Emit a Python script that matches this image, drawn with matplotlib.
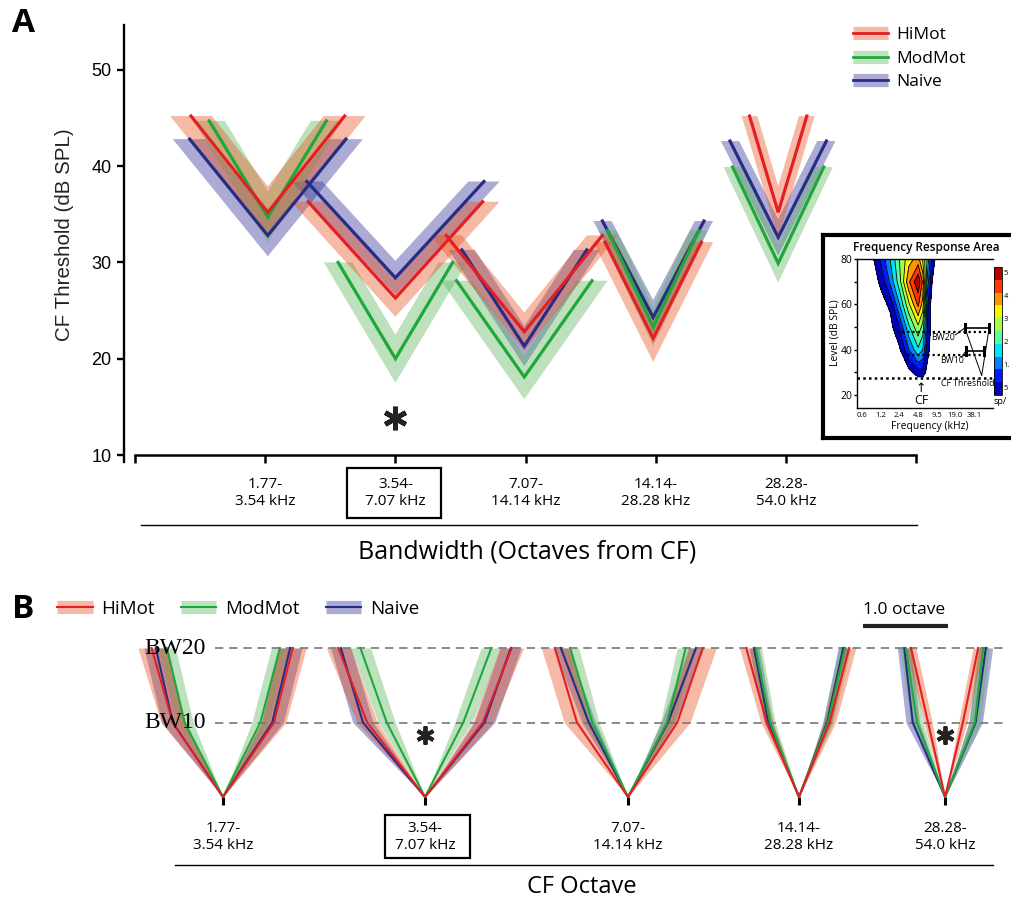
import matplotlib.pyplot as plt
import numpy as np
from matplotlib.lines import Line2D
from matplotlib.patches import Rectangle
from matplotlib.transforms import blended_transform_factory

plt.rcParams['font.family'] = ['Open Sans', 'DejaVu Sans']

W, H = 1011, 902
fig = plt.figure(figsize=(W / 100, H / 100), dpi=100)


def fx(px):
    return px / W


def fy(py):
    return 1 - py / H


# ---------------- data, panel A ----------------
bands = ["1.77-\n3.54 kHz", "3.54-\n7.07 kHz", "7.07-\n14.14 kHz",
         "14.14-\n28.28 kHz", "28.28-\n54.0 kHz"]
centers_a = [1.02, 2.0, 2.99, 3.98, 4.94]
rise = 10  # BW10 arms

hi_thr = [35.2, 26.3, 22.8, 22.1, 35.2]
mod_thr = [34.7, 20.0, 18.1, 23.3, 29.9]
naive_thr = [32.8, 28.4, 21.3, 24.3, 32.6]
hi_bw = [0.59, 0.67, 0.60, 0.37, 0.22]
mod_bw = [0.45, 0.44, 0.52, 0.35, 0.35]
naive_bw = [0.60, 0.68, 0.48, 0.39, 0.37]
hi_bw_sem = [0.16, 0.13, 0.12, 0.09, 0.06]
mod_bw_sem = [0.12, 0.11, 0.12, 0.07, 0.07]
naive_bw_sem = [0.13, 0.12, 0.10, 0.07, 0.07]
sig_a = [(2.0, 13.8)]

# ---------------- data, panel B (octaves from CF) ----------------
centers_b = [0.976, 3.353, 5.741, 7.753, 9.471]
levels_b = [20, 10, 0, 10, 20]
# [left BW20, left BW10, right BW10, right BW20]
hi_edges = [[-0.84, -0.59, 0.60, 0.82], [-1.02, -0.68, 0.68, 1.02],
            [-0.86, -0.60, 0.58, 0.88], [-0.62, -0.38, 0.36, 0.59],
            [-0.40, -0.20, 0.21, 0.39]]
mod_edges = [[-0.66, -0.45, 0.44, 0.67], [-0.76, -0.45, 0.45, 0.78],
             [-0.68, -0.42, 0.46, 0.68], [-0.51, -0.34, 0.34, 0.54],
             [-0.46, -0.33, 0.35, 0.45]]
naive_edges = [[-0.79, -0.59, 0.58, 0.79], [-0.99, -0.73, 0.70, 1.01],
               [-0.79, -0.46, 0.47, 0.80], [-0.53, -0.36, 0.33, 0.52],
               [-0.48, -0.38, 0.36, 0.48]]
# [sem at BW10, sem at BW20]
hi_sem_b = [[0.14, 0.16], [0.12, 0.14], [0.15, 0.16], [0.07, 0.08], [0.05, 0.06]]
mod_sem_b = [[0.10, 0.10], [0.10, 0.12], [0.08, 0.10], [0.06, 0.07], [0.07, 0.07]]
naive_sem_b = [[0.13, 0.14], [0.12, 0.12], [0.08, 0.09], [0.05, 0.06], [0.08, 0.08]]
sig_b = [(3.353, 8.3), (9.471, 8.3)]

# ---------------- data, inset (frequency response area) ----------------
fra_oct = [0, 0.5, 1.0, 1.5, 2.0, 2.5, 3.0, 3.25, 3.5, 3.75, 4.0, 5.0, 7.5]
fra_db = [14, 26, 30, 40, 50, 60, 70, 80]
fra_rate = [
    [0, 0, 0, 0, 0, 0, 0, 0, 0, 0, 0, 0, 0],
    [0, 0, 0, 0, 0, 0, 0, 0, 0, 0, 0, 0, 0],
    [0, 0, 0, 0, 0, 0.1, 0.6, 0.6, 0.1, 0, 0, 0, 0],
    [0, 0, 0, 0, 0.2, 1.3, 2.2, 1.8, 0.5, 0, 0, 0, 0],
    [0, 0, 0, 0.1, 0.8, 2.2, 3.2, 2.6, 0.8, 0, 0, 0, 0],
    [0, 0, 0.1, 0.4, 1.8, 3.2, 4.4, 3.6, 0.9, 0, 0, 0, 0],
    [0, 0, 0.4, 1.4, 2.6, 4.2, 5.2, 4.2, 1.6, 0.3, 0, 0, 0],
    [0, 0.1, 0.9, 1.8, 2.8, 3.6, 4.0, 3.2, 2.2, 0.6, 0.1, 0, 0],
]
fra_levels = [0.3, 0.8, 1.3, 1.8, 2.3, 2.8, 3.3, 3.8, 4.3, 4.8, 5.3]
fra_freqs = ['0.6', '1.2', '2.4', '4.8', '9.5', '19.0', '38.1']

# ---------------- styles ----------------
hi_line, hi_band = '#e31e24', '#e6501e'
mod_line, mod_band = '#1fa83a', '#5cb45c'
naive_line, naive_band = '#262d87', '#2f2f96'
alpha_band = 0.4

series_a = [
    (naive_thr, naive_bw, naive_bw_sem, naive_line, naive_band),
    (mod_thr, mod_bw, mod_bw_sem, mod_line, mod_band),
    (hi_thr, hi_bw, hi_bw_sem, hi_line, hi_band),
]
series_b = [
    (naive_edges, naive_sem_b, naive_line, naive_band),
    (mod_edges, mod_sem_b, mod_line, mod_band),
    (hi_edges, hi_sem_b, hi_line, hi_band),
]

# ================= panel A =================
ppu = 130.2  # pixels per group
axa = fig.add_axes([fx(124), fy(462), fx(1011) - fx(124), fy(25) - fy(462)])
axa.set_xlim(-11 / ppu, 876 / ppu)
axa.set_ylim(10 - 7 / 9.63, 10 + 430 / 9.63)

for thr, bw, sem, lc, bc in series_a:
    for c, t, hw, d in zip(centers_a, thr, bw, sem):
        top = t + rise
        e = d * rise / hw
        axa.fill([c - hw - d, c, c + hw + d, c + hw - d, c, c - hw + d],
                 [top, t - e, top, top, t + e, top],
                 color=bc, alpha=alpha_band, lw=0)
        axa.plot([c - hw, c, c + hw], [top, t, top], color=lc, lw=2.3,
                 solid_joinstyle='miter')

for x, y in sig_a:
    axa.plot(x, y, marker=(6, 2, 0), ms=17, mew=3.5, color='#222222')

axa.spines['top'].set_visible(False)
axa.spines['right'].set_visible(False)
axa.spines['left'].set_linewidth(1.7)
axa.spines['bottom'].set_linewidth(1.8)
axa.spines['bottom'].set_position(('data', 10))
axa.spines['bottom'].set_bounds(0, 6)
axa.set_yticks([10, 20, 30, 40, 50])
axa.set_xticks([0, 1, 2, 3, 4, 5, 6])
axa.set_xticklabels([''] + bands + [''])
axa.tick_params(axis='y', length=5, width=1.7, labelsize=13, pad=4)
axa.tick_params(axis='x', length=6, width=1.8, labelsize=11, pad=10)
for lab in axa.get_yticklabels():
    lab.set_fontfamily(['Liberation Sans'])
for lab in axa.get_xticklabels():
    lab.set_multialignment('center')
trA = blended_transform_factory(axa.transData, fig.transFigure)
fig.add_artist(Rectangle((2 - 48 / ppu, fy(518)), 94 / ppu, 50 / H, transform=trA,
                         fc='none', ec='black', lw=1.6))

fig.text(fx(65), fy(235), 'CF Threshold (dB SPL)', rotation=90, fontsize=14.8,
         ha='center', va='center', family=['Liberation Sans'], color='#222222')
fig.add_artist(Line2D([fx(141), fx(917)], [fy(525), fy(525)], color='black', lw=1))
fig.text(fx(527), fy(552), 'Bandwidth (Octaves from CF)', fontsize=18,
         ha='center', va='center')
fig.text(fx(12), fy(24), 'A', fontsize=24, weight='bold', va='center')

names = ['HiMot', 'ModMot', 'Naive']


def legend_handles(lw_line):
    return [
        (Line2D([], [], color=bc, alpha=alpha_band, lw=9.5, solid_capstyle='butt'),
         Line2D([], [], color=lc, lw=lw_line))
        for lc, bc in [(hi_line, hi_band), (mod_line, mod_band),
                       (naive_line, naive_band)]
    ]


fig.legend(legend_handles(2), names, loc='upper left',
           bbox_to_anchor=(fx(853), fy(27)), frameon=False, fontsize=12.5,
           handlelength=2.0, handletextpad=0.5, labelspacing=0.42,
           borderaxespad=0, borderpad=0)

# ================= inset =================
frame = fig.add_axes([fx(823), fy(438), fx(1030) - fx(823), fy(235) - fy(438)])
frame.set_xticks([])
frame.set_yticks([])
for s in frame.spines.values():
    s.set_linewidth(3)
frame.set_zorder(5)

axi = fig.add_axes([fx(857), fy(408), fx(993) - fx(857), fy(259) - fy(408)])
axi.set_zorder(6)
axi.set_xlim(-0.27, (993 - 862) / 18.7)
axi.set_ylim(14.3, 80)
cs = axi.contourf(fra_oct, fra_db, fra_rate, levels=fra_levels, cmap='jet')
axi.contour(fra_oct, fra_db, fra_rate, levels=fra_levels, colors='k',
            linewidths=0.6)
axi.hlines([47.8], 1.87, 6.85, colors='k', lw=1.6, linestyles=(0, (1, 1.3)))
axi.hlines([37.7], 2.41, 6.5, colors='k', lw=1.6, linestyles=(0, (1, 1.3)))
axi.hlines([27.5], -0.27, 7.0, colors='k', lw=1.8, linestyles=(0, (1, 1.3)))
axi.plot([5.5, 6.8], [49.6, 49.6], color='k', lw=1.2)
axi.plot([5.55, 6.55], [39.4, 39.4], color='k', lw=1.2)
for xb, yb in [(5.5, 49.6), (6.8, 49.6), (5.55, 39.4), (6.55, 39.4)]:
    axi.plot([xb, xb], [yb - 1.8, yb + 1.8], color='k', lw=2.2)
axi.plot([5.5, 6.4, 6.8], [49.6, 28.6, 49.6], color='k', lw=0.7)
axi.plot([5.5, 5.0], [49.6, 46.6], color='k', lw=0.7)
axi.plot([5.55, 5.3], [39.4, 36.6], color='k', lw=0.7)
axi.spines['right'].set_visible(False)
for s in ['left', 'top', 'bottom']:
    axi.spines[s].set_linewidth(1)
axi.set_yticks([20, 30, 40, 50, 60, 70, 80])
axi.set_yticklabels(['20', '', '40', '', '60', '', '80'])
axi.set_xticks(np.log2([0.6, 1.2, 2.4, 4.8, 9.5, 19.0, 38.1]) - np.log2(0.6))
axi.set_xticklabels(fra_freqs)
axi.tick_params(axis='y', length=2.5, width=1, labelsize=7.5, pad=1)
axi.tick_params(axis='x', length=0, labelsize=5.5, pad=3)
fig.text(fx(835), fy(333), 'Level (dB SPL)', rotation=90, fontsize=7.5,
         ha='center', va='center', zorder=7)
fig.text(fx(930), fy(427), 'Frequency (kHz)', fontsize=7.5, ha='center',
         va='center', zorder=7)
fig.text(fx(926), fy(247), 'Frequency Response Area', fontsize=8.5,
         weight='semibold', ha='center', va='center', zorder=7)
fig.text(fx(943), fy(338), 'BW20', fontsize=6.3, ha='center', va='center', zorder=7)
fig.text(fx(952), fy(361), 'BW10', fontsize=6.3, ha='center', va='center', zorder=7)
fig.text(fx(968), fy(383), 'CF Threshold', fontsize=6.3, ha='center',
         va='center', zorder=7)
fig.text(fx(921), fy(389), '\u2191', fontsize=9, ha='center', va='center', zorder=7)
fig.text(fx(921), fy(401), 'CF', fontsize=9, ha='center', va='center', zorder=7)

cax = fig.add_axes([fx(994), fy(395), 8 / W, (395 - 267) / H])
cax.set_zorder(6)
cb = fig.colorbar(cs, cax=cax)
cb.outline.set_linewidth(0.6)
cb.set_ticks([5.1, 4.2, 3.3, 2.4, 1.5, 0.6])
cb.set_ticklabels(['5', '4', '3', '2', '1.', '5'])
cax.tick_params(length=0, labelsize=5.5, pad=1)
fig.text(fx(994), fy(401), 'sp/', fontsize=6.5, ha='left', va='center', zorder=7)

# ================= panel B =================
ppo = 85.0  # pixels per octave
axb = fig.add_axes([fx(140), fy(797), fx(1011) - fx(140), fy(640) - fy(797)])
axb.set_xlim(0, 871 / ppo)
axb.set_ylim(0, 20 + 8 / 7.45)

axb.hlines([10, 20], 75 / ppo, 865 / ppo, colors='#777777', lw=1.2,
           linestyles=(0, (5, 3.5)))

for edges, sems, lc, bc in series_b:
    for c, ed, sm in zip(centers_b, edges, sems):
        l20, l10, r10, r20 = ed
        s10, s20 = sm
        axb.fill_betweenx([0, 10, 20], [c, c + l10 - s10, c + l20 - s20],
                          [c, c + l10 + s10, c + l20 + s20],
                          color=bc, alpha=alpha_band, lw=0, clip_on=False)
        axb.fill_betweenx([0, 10, 20], [c, c + r10 - s10, c + r20 - s20],
                          [c, c + r10 + s10, c + r20 + s20],
                          color=bc, alpha=alpha_band, lw=0, clip_on=False)
        axb.plot([c + l20, c + l10, c, c + r10, c + r20], levels_b, color=lc,
                 lw=1.5, clip_on=False)

for x, y in sig_b:
    axb.plot(x, y, marker=(6, 2, 0), ms=13, mew=2.8, color='#222222')

for s in axb.spines.values():
    s.set_visible(False)
axb.set_yticks([])
axb.set_xticks(centers_b)
axb.set_xticklabels(bands)
axb.tick_params(axis='x', length=6, width=2.2, labelsize=11, pad=11)
for lab in axb.get_xticklabels():
    lab.set_multialignment('center')
trB = blended_transform_factory(axb.transData, fig.transFigure)
fig.add_artist(Rectangle((centers_b[1] - 40 / ppo, fy(858)), 85 / ppo, 43 / H,
                         transform=trB, fc='none', ec='black', lw=1.6))

# scale bar
axb.plot([723 / ppo, 723 / ppo + 1.0], [20 + 22 / 7.45] * 2, color='#222222', lw=3,
         clip_on=False, solid_capstyle='butt')
fig.text(fx(904), fy(610), '1.0 octave', fontsize=12.5, ha='center', va='center')

fig.text(fx(144), fy(648), 'BW20', fontsize=17, va='center',
         family=['Liberation Serif'])
fig.text(fx(144), fy(723), 'BW10', fontsize=17, va='center',
         family=['Liberation Serif'])
fig.add_artist(Line2D([fx(175), fx(993)], [fy(865), fy(865)], color='black', lw=1))
fig.text(fx(582), fy(887), 'CF Octave', fontsize=17, ha='center', va='center')
fig.text(fx(12), fy(609), 'B', fontsize=24, weight='bold', va='center')

fig.legend(legend_handles(1.5), names, loc='center left',
           bbox_to_anchor=(fx(57), fy(609)), ncol=3, frameon=False,
           fontsize=13.5, handlelength=1.9, handletextpad=0.45,
           columnspacing=1.4, borderaxespad=0, borderpad=0)

fig.savefig('out.png', dpi=100)
